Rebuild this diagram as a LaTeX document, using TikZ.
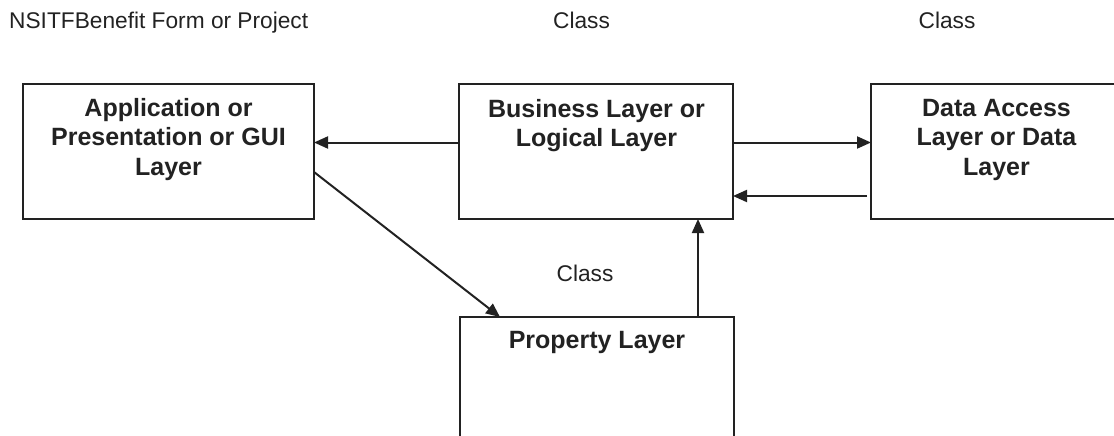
\documentclass[tikz,border=0pt]{standalone}
\usepackage{fontspec}
\setmainfont{Liberation Sans}
\usetikzlibrary{arrows.meta}
\definecolor{ink}{HTML}{222222}
\tikzset{
  layerbox/.style={draw=ink, line width=2pt, inner sep=0pt, outer sep=0pt, fill=none},
  layertext/.style={inner sep=0pt, align=center, text=ink,
    font=\fontsize{25}{29.5}\selectfont\bfseries},
  caption/.style={inner sep=0pt, text=ink, font=\fontsize{22.7}{27}\selectfont},
  arr/.style={draw=ink, line width=2pt, -{Triangle[length=14pt,width=12pt]}},
}
\begin{document}
\begin{tikzpicture}[x=1pt, y=-1pt]
  \useasboundingbox (0,0) rectangle (1114,436);
  \clip (0,0) rectangle (1114,436);

  % headings above the boxes
  \node[caption, anchor=base west] (proj) at (9,29) {NSITFBenefit Form or Project};
  \node[caption, anchor=base] (clsB) at (581.5,29) {Class};
  \node[caption, anchor=base] (clsC) at (947,29) {Class};
  \node[caption, anchor=base] (clsD) at (585,281.5) {Class};

  % the layers
  \node[layerbox, minimum width=291pt, minimum height=135pt] (A) at (168.5,151.5) {};
  \node[layerbox, minimum width=274pt, minimum height=135pt] (B) at (596,151.5) {};
  \node[layerbox, minimum width=251pt, minimum height=135pt] (C) at (996.5,151.5) {};
  \node[layerbox, minimum width=274pt, minimum height=142pt] (D) at (597,388) {};

  \node[layertext] (tA) at (168.5,139.5) {Application or\\Presentation or GUI\\Layer};
  \node[layertext] (tB) at (596.5,125.5) {Business Layer or\\Logical Layer};
  \node[layertext] (tC) at (996.5,139.5) {Data Access\\Layer or Data\\Layer};
  \node[layertext] (tD) at (597,342.5) {Property Layer};

  % connectors
  \draw[arr] ([yshift=9pt]B.west) -- ([yshift=9pt]B.west -| A.east);
  \draw[arr] ([yshift=9pt]B.east) -- ([yshift=9pt]B.east -| C.west);
  \draw[arr] ([yshift=-44.5pt,xshift=-4pt]C.west) -- ([yshift=-44.5pt]C.west -| B.east);
  \draw[arr] ([yshift=-20.5pt]A.east) -- ([xshift=-97pt]D.north);
  \draw[arr] ([xshift=101pt]D.north) -- ([xshift=101pt]D.north |- B.south);
\end{tikzpicture}
\end{document}
